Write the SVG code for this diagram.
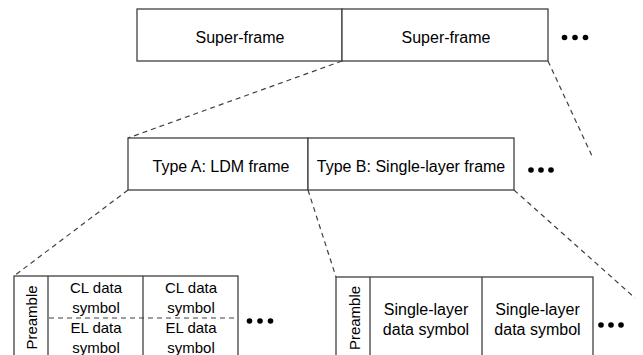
<svg xmlns="http://www.w3.org/2000/svg" width="643" height="355" viewBox="0 0 643 355">
<style>
.box{fill:#fff;stroke:#404040;stroke-width:1.3}
.div{stroke:#404040;stroke-width:1.3;fill:none}
.dash{stroke:#404040;stroke-width:1.2;fill:none;stroke-dasharray:5 4}
.t{font-family:"Liberation Sans",Arial,sans-serif;fill:#000;text-anchor:middle}
.t16{font-size:16px}
.t15{font-size:15px}
.dot{fill:#000}
</style>
<rect width="643" height="355" fill="#fff"/>
<g id="connectors">
<line class="dash" x1="342" y1="61" x2="128" y2="138"/>
<line class="dash" x1="548" y1="61" x2="592" y2="156"/>
<line class="dash" x1="128" y1="190" x2="14" y2="276"/>
<line class="dash" x1="308" y1="190" x2="336" y2="277"/>
<line class="dash" x1="514" y1="190" x2="635" y2="298"/>
</g>
<g id="superframe1">
<rect class="box" x="137" y="9" width="205" height="52"/>
<text class="t t16" x="240" y="43">Super-frame</text>
</g>
<g id="superframe2">
<rect class="box" x="342" y="9" width="206" height="52"/>
<text class="t t16" x="446" y="43">Super-frame</text>
</g>
<g id="dots-top" class="dot">
<circle cx="564.5" cy="37.5" r="2.8"/><circle cx="575" cy="37.5" r="2.8"/><circle cx="585.5" cy="37.5" r="2.8"/>
</g>
<g id="typeA">
<rect class="box" x="128" y="138" width="180" height="52"/>
<text class="t t16" x="221" y="172">Type A: LDM frame</text>
</g>
<g id="typeB">
<rect class="box" x="308" y="138" width="206" height="52"/>
<text class="t t16" x="411" y="172">Type B: Single-layer frame</text>
</g>
<g id="dots-mid" class="dot">
<circle cx="531" cy="170" r="2.8"/><circle cx="541" cy="170" r="2.8"/><circle cx="551" cy="170" r="2.8"/>
</g>
<g id="ldm-frame">
<rect class="box" x="14" y="276" width="224" height="100"/>
<line class="div" x1="48" y1="276" x2="48" y2="376"/>
<line class="div" x1="143" y1="276" x2="143" y2="376"/>
<line class="dash" x1="49" y1="318" x2="237" y2="318"/>
<text class="t t15" transform="translate(37.3,317.5) rotate(-90)">Preamble</text>
<text class="t t15" x="96" y="293">CL data</text>
<text class="t t15" x="96" y="313">symbol</text>
<text class="t t15" x="96" y="333">EL data</text>
<text class="t t15" x="96" y="353">symbol</text>
<text class="t t15" x="191" y="293">CL data</text>
<text class="t t15" x="191" y="313">symbol</text>
<text class="t t15" x="191" y="333">EL data</text>
<text class="t t15" x="191" y="353">symbol</text>
</g>
<g id="dots-left" class="dot">
<circle cx="249.5" cy="321" r="2.8"/><circle cx="260" cy="321" r="2.8"/><circle cx="270.5" cy="321" r="2.8"/>
</g>
<g id="single-layer-frame">
<rect class="box" x="336" y="277" width="257" height="100"/>
<line class="div" x1="370" y1="277" x2="370" y2="377"/>
<line class="div" x1="482" y1="277" x2="482" y2="377"/>
<text class="t t15" transform="translate(359.5,318) rotate(-90)">Preamble</text>
<text class="t t16" x="426" y="315">Single-layer</text>
<text class="t t16" x="426" y="335">data symbol</text>
<text class="t t16" x="537.5" y="315">Single-layer</text>
<text class="t t16" x="537.5" y="335">data symbol</text>
</g>
<g id="dots-right" class="dot">
<circle cx="601" cy="325" r="2.8"/><circle cx="611" cy="325" r="2.8"/><circle cx="621" cy="325" r="2.8"/>
</g>
</svg>
